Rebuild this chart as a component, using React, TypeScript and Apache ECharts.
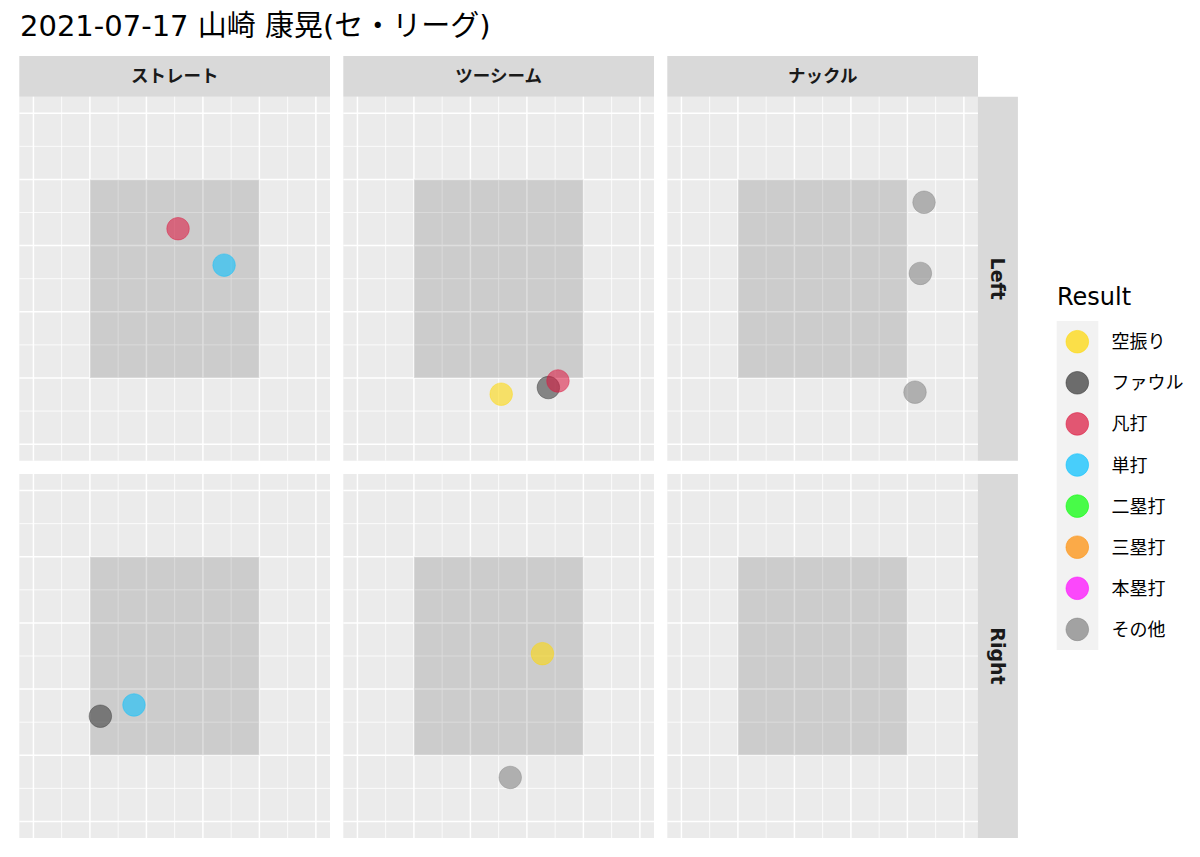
import React, { useEffect, useRef } from "react";
import * as echarts from "echarts";

// ---- data ----
const chartTitle = "2021-07-17 山崎 康晃(セ・リーグ)";
const legendTitle = "Result";
const pitchTypes = ["ストレート", "ツーシーム", "ナックル"];
const batterSides = ["Left", "Right"];
const results = ["空振り", "ファウル", "凡打", "単打", "二塁打", "三塁打", "本塁打", "その他"];
const resultRGB = [
  [255, 215, 0],
  [51, 51, 51],
  [220, 20, 60],
  [0, 191, 255],
  [0, 255, 0],
  [255, 140, 0],
  [255, 0, 255],
  [128, 128, 128],
];
const pointAlpha = 0.7;
// each pitch: type, batter side, result, horizontal location, height
const pitchType = ["ストレート", "ストレート", "ツーシーム", "ツーシーム", "ツーシーム", "ナックル", "ナックル", "ナックル", "ストレート", "ストレート", "ツーシーム", "ツーシーム"];
const pitchSide = ["Left", "Left", "Left", "Left", "Left", "Left", "Left", "Left", "Right", "Right", "Right", "Right"];
const pitchResult = ["凡打", "単打", "空振り", "ファウル", "凡打", "その他", "その他", "その他", "ファウル", "単打", "空振り", "その他"];
const pitchX = [5.12, 6.75, 5.09, 6.76, 7.1, 8.59, 8.46, 8.27, 2.37, 3.56, 6.55, 5.41];
const pitchY = [6.51, 5.41, 1.51, 1.71, 1.91, 7.31, 5.16, 1.57, 3.18, 3.52, 5.07, 1.33];

// plate grid
const axisMin = -0.5;
const axisMax = 10.5;
const majorLines = [0, 2, 4, 6, 8, 10];
const minorLines = [1, 3, 5, 7, 9];
const zoneMin = 2;
const zoneMax = 8;

// ---- layout ----
const colLeft = [19.3, 343.3, 667.3];
const panelW = 310.7;
const rowTop = [96.7, 474];
const panelH = 364;
const stripH = 40.7;
const rightStripX = 977.9;
const rightStripW = 40;

const rgba = (c: number[], a: number) => `rgba(${c[0]},${c[1]},${c[2]},${a})`;

function buildOption() {
  const grids: any[] = [];
  const xAxes: any[] = [];
  const yAxes: any[] = [];
  const series: any[] = [];
  const graphics: any[] = [];

  batterSides.forEach((side, r) => {
    pitchTypes.forEach((pt, c) => {
      const gi = r * pitchTypes.length + c;
      grids.push({
        left: colLeft[c],
        top: rowTop[r],
        width: panelW,
        height: panelH,
        show: true,
        backgroundColor: "#EBEBEB",
        borderWidth: 0,
      });
      xAxes.push({ type: "value", gridIndex: gi, min: axisMin, max: axisMax, show: false });
      yAxes.push({ type: "value", gridIndex: gi, min: axisMin, max: axisMax, show: false });

      series.push({
        type: "custom",
        name: "bg" + gi,
        xAxisIndex: gi,
        yAxisIndex: gi,
        silent: true,
        z: 1,
        data: [[0, 0]],
        renderItem: (params: any, api: any) => {
          const children: any[] = [];
          const addLines = (vals: number[], w: number) => {
            vals.forEach((v) => {
              const a = api.coord([v, axisMin]);
              const b = api.coord([v, axisMax]);
              children.push({ type: "line", shape: { x1: a[0], y1: a[1], x2: b[0], y2: b[1] }, style: { stroke: "#FFFFFF", lineWidth: w } });
              const c1 = api.coord([axisMin, v]);
              const c2 = api.coord([axisMax, v]);
              children.push({ type: "line", shape: { x1: c1[0], y1: c1[1], x2: c2[0], y2: c2[1] }, style: { stroke: "#FFFFFF", lineWidth: w } });
            });
          };
          addLines(minorLines, 0.8);
          addLines(majorLines, 1.5);
          const p1 = api.coord([zoneMin, zoneMax]);
          const p2 = api.coord([zoneMax, zoneMin]);
          children.push({
            type: "rect",
            shape: { x: p1[0], y: p1[1], width: p2[0] - p1[0], height: p2[1] - p1[1] },
            style: { fill: "rgba(0,0,0,0.13)" },
          });
          return { type: "group", children };
        },
      });

      results.forEach((res, k) => {
        const data: number[][] = [];
        for (let i = 0; i < pitchType.length; i++) {
          if (pitchType[i] === pt && pitchSide[i] === side && pitchResult[i] === res) {
            data.push([pitchX[i], pitchY[i]]);
          }
        }
        if (!data.length) return;
        series.push({
          type: "scatter",
          name: res,
          xAxisIndex: gi,
          yAxisIndex: gi,
          z: 3,
          symbol: "circle",
          symbolSize: 22.5,
          itemStyle: {
            color: rgba(resultRGB[k], pointAlpha),
            borderColor: rgba(resultRGB[k], 0.9),
            borderWidth: 0.6,
          },
          data,
        });
      });
    });
  });

  // top strips
  pitchTypes.forEach((pt, c) => {
    graphics.push({
      type: "rect",
      shape: { x: colLeft[c], y: rowTop[0] - stripH, width: panelW, height: stripH },
      style: { fill: "#D9D9D9" },
      z: 0,
    });
    graphics.push({
      type: "text",
      x: colLeft[c] + panelW / 2,
      y: rowTop[0] - stripH / 2,
      style: {
        text: pt,
        fill: "#1A1A1A",
        font: 'bold 17.5px "DejaVu Sans", "Noto Sans CJK JP", sans-serif',
        textAlign: "center",
        textVerticalAlign: "middle",
      },
      z: 1,
    });
  });
  // right strips
  batterSides.forEach((side, r) => {
    graphics.push({
      type: "rect",
      shape: { x: rightStripX, y: rowTop[r], width: rightStripW, height: panelH },
      style: { fill: "#D9D9D9" },
      z: 0,
    });
    graphics.push({
      type: "text",
      x: rightStripX + rightStripW / 2,
      y: rowTop[r] + panelH / 2,
      rotation: -Math.PI / 2,
      style: {
        text: side,
        fill: "#1A1A1A",
        font: 'bold 19px "DejaVu Sans", "Noto Sans CJK JP", sans-serif',
        textAlign: "center",
        textVerticalAlign: "middle",
      },
      z: 1,
    });
  });
  // legend
  graphics.push({
    type: "text",
    x: 1057,
    y: 297,
    style: {
      text: legendTitle,
      fill: "#000000",
      font: '24px "DejaVu Sans", "Noto Sans CJK JP", sans-serif',
      textAlign: "left",
      textVerticalAlign: "middle",
    },
  });
  graphics.push({
    type: "rect",
    shape: { x: 1056.7, y: 321, width: 41.6, height: 329 },
    style: { fill: "#F2F2F2" },
    z: 0,
  });
  results.forEach((res, k) => {
    const cy = 341.7 + k * 41.1;
    graphics.push({
      type: "circle",
      shape: { cx: 1077.3, cy, r: 11.3 },
      style: { fill: rgba(resultRGB[k], pointAlpha), stroke: rgba(resultRGB[k], 0.9), lineWidth: 0.6 },
      z: 1,
    });
    graphics.push({
      type: "text",
      x: 1111.5,
      y: cy,
      style: {
        text: res,
        fill: "#000000",
        font: '18px "DejaVu Sans", "Noto Sans CJK JP", sans-serif',
        textAlign: "left",
        textVerticalAlign: "middle",
      },
      z: 1,
    });
  });
  // title
  graphics.push({
    type: "text",
    x: 20,
    y: 26,
    style: {
      text: chartTitle,
      fill: "#000000",
      font: '29px "DejaVu Sans", "Noto Sans CJK JP", sans-serif',
      textAlign: "left",
      textVerticalAlign: "middle",
    },
  });

  return {
    animation: false,
    backgroundColor: "#FFFFFF",
    grid: grids,
    xAxis: xAxes,
    yAxis: yAxes,
    series,
    graphic: graphics,
  };
}

export default function App() {
  const ref = useRef<HTMLDivElement>(null);
  useEffect(() => {
    if (!ref.current) return;
    const chart = echarts.init(ref.current, undefined, { renderer: "svg" });
    chart.setOption(buildOption());
    return () => chart.dispose();
  }, []);
  return (
    <div
      ref={ref}
      style={{ position: "fixed", left: 0, top: 0, width: 1200, height: 857, background: "#FFFFFF" }}
    />
  );
}
